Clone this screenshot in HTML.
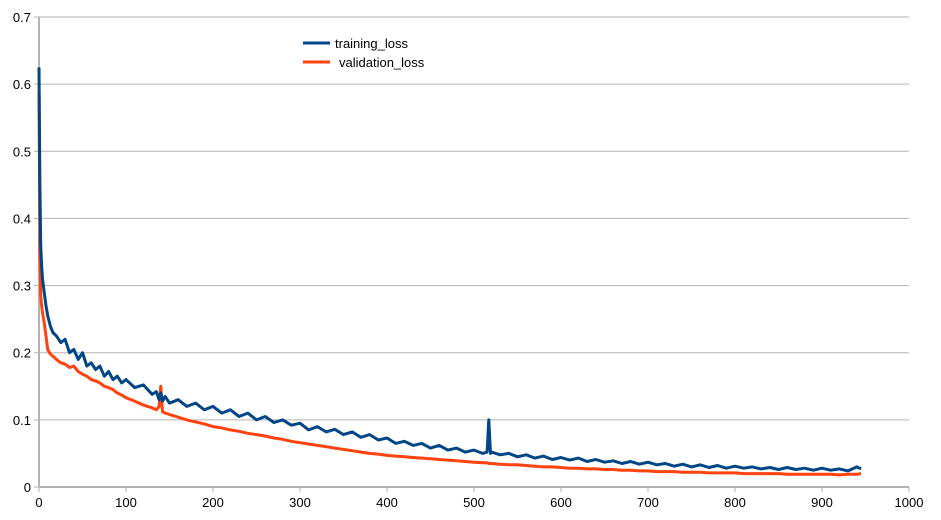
<!DOCTYPE html>
<html><head><meta charset="utf-8"><style>
body{margin:0;background:#fff;}
svg{display:block;font-family:"Liberation Sans",sans-serif;}
</style></head><body>
<svg id="chart" width="941" height="520" viewBox="0 0 941 520" xmlns="http://www.w3.org/2000/svg">
<g id="grid"></g>
<g id="axes"></g>
<g id="series"></g>
<g id="legend">
<line x1="303" y1="43" x2="330" y2="43" stroke="#004586" stroke-width="3"/>
<text x="335" y="48" font-size="13" fill="#000">training_loss</text>
<line x1="303" y1="62" x2="330" y2="62" stroke="#ff420e" stroke-width="3"/>
<text x="339" y="67" font-size="13" fill="#000">validation_loss</text>
</g>
</svg>
<script>
const epochs=[0,1,2,3,4,6,8,10,13,16,20,25,30,35,40,45,50,55,60,65,70,75,80,85,90,95,100,
110,120,130,135,138,140,142,145,
150,160,170,180,190,200,210,220,230,240,250,260,270,280,290,300,310,320,330,340,350,360,370,380,390,400,410,420,430,440,450,460,470,480,490,500,510,
515,517,519,
520,530,540,550,560,570,580,590,600,610,620,630,640,650,660,670,680,690,700,710,720,730,740,750,760,770,780,790,800,810,820,830,840,850,860,870,880,890,900,910,920,930,940,945];
const trainingLoss=[.625,.45,.36,.33,.31,.29,.27,.255,.24,.23,.225,.215,.22,.2,.205,.19,.2,.18,.185,.175,.18,.165,.172,.16,.165,.155,.16,
.148,.152,.138,.142,.13,.14,.128,.135,
.125,.13,.12,.125,.115,.12,.11,.115,.105,.11,.1,.105,.096,.1,.092,.095,.085,.09,.082,.086,.078,.082,.074,.078,.07,.073,.065,.068,.062,.065,.058,.062,.055,.058,.052,.055,.05,
.052,.1,.05,
.052,.048,.05,.045,.048,.043,.046,.041,.044,.04,.043,.038,.041,.037,.039,.035,.038,.034,.037,.033,.035,.031,.034,.03,.033,.029,.032,.028,.031,.028,.03,.027,.029,.026,.029,.026,.028,.025,.028,.025,.027,.024,.03,.027];
const validationLoss=[.59,.35,.285,.27,.26,.245,.225,.205,.198,.195,.19,.185,.183,.178,.18,.172,.168,.165,.16,.158,.155,.15,.148,.145,.14,.137,.133,
.128,.122,.118,.115,.12,.15,.112,.11,
.108,.104,.1,.097,.094,.09,.088,.085,.083,.08,.078,.076,.073,.071,.068,.066,.064,.062,.06,.058,.056,.054,.052,.05,.049,.047,.046,.045,.044,.043,.042,.041,.04,.039,.038,.037,.036,
.036,.035,.035,
.035,.034,.033,.033,.032,.031,.03,.03,.029,.028,.028,.027,.027,.026,.026,.025,.025,.024,.024,.023,.023,.023,.022,.022,.022,.021,.021,.021,.021,.02,.02,.02,.02,.02,.019,.019,.019,.019,.019,.019,.018,.019,.019,.02];
const yTicks=["0","0.1","0.2","0.3","0.4","0.5","0.6","0.7"];
const xTicks=["0","100","200","300","400","500","600","700","800","900","1000"];
const X0=39,X1=909,Y0=487,Y1=17;
const xs=v=>X0+(v/1000)*(X1-X0);
const ys=v=>Y0-(v/0.7)*(Y0-Y1);
const NS="http://www.w3.org/2000/svg";
function mk(tag,attrs,parent){const e=document.createElementNS(NS,tag);for(const k in attrs)e.setAttribute(k,attrs[k]);parent.appendChild(e);return e;}
const grid=document.getElementById('grid'),axes=document.getElementById('axes'),series=document.getElementById('series');
yTicks.forEach((t,i)=>{const v=parseFloat(t);const y=ys(v);
 if(i>0){const g=mk('line',{x1:X0,x2:X1,y1:y,y2:y,stroke:'#b3b3b3','stroke-width':1},grid);
 
 }
 const tk=mk('line',{x1:X0-5,x2:X0,y1:y,y2:y,stroke:'#b3b3b3','stroke-width':1},axes);
 
 
 const tx=mk('text',{x:X0-8,y:y+5,'text-anchor':'end','font-size':13,fill:'#000'},axes);tx.textContent=t;
 
 
});
xTicks.forEach(t=>{const x=xs(parseFloat(t));
 const tk=mk('line',{x1:x,x2:x,y1:Y0,y2:Y0+5,stroke:'#b3b3b3','stroke-width':1},axes);
 
 
 const tx=mk('text',{x:x,y:Y0+20,'text-anchor':'middle','font-size':13,fill:'#000'},axes);tx.textContent=t;
 
 
});
const va=mk('line',{x1:X0,x2:X0,y1:Y1,y2:Y0,stroke:'#b3b3b3','stroke-width':2},axes);


const ha=mk('line',{x1:X0,x2:X1,y1:Y0,y2:Y0,stroke:'#b3b3b3','stroke-width':2},axes);


function path(vals){return vals.map((v,i)=>(i?'L':'M')+xs(epochs[i]).toFixed(1)+' '+ys(v).toFixed(1)).join(' ');}
const pv=mk('path',{d:path(validationLoss),fill:'none',stroke:'#ff420e','stroke-width':3,'stroke-linejoin':'round'},series);


const pt=mk('path',{d:path(trainingLoss),fill:'none',stroke:'#004586','stroke-width':3,'stroke-linejoin':'round'},series);


</script>
</body></html>
